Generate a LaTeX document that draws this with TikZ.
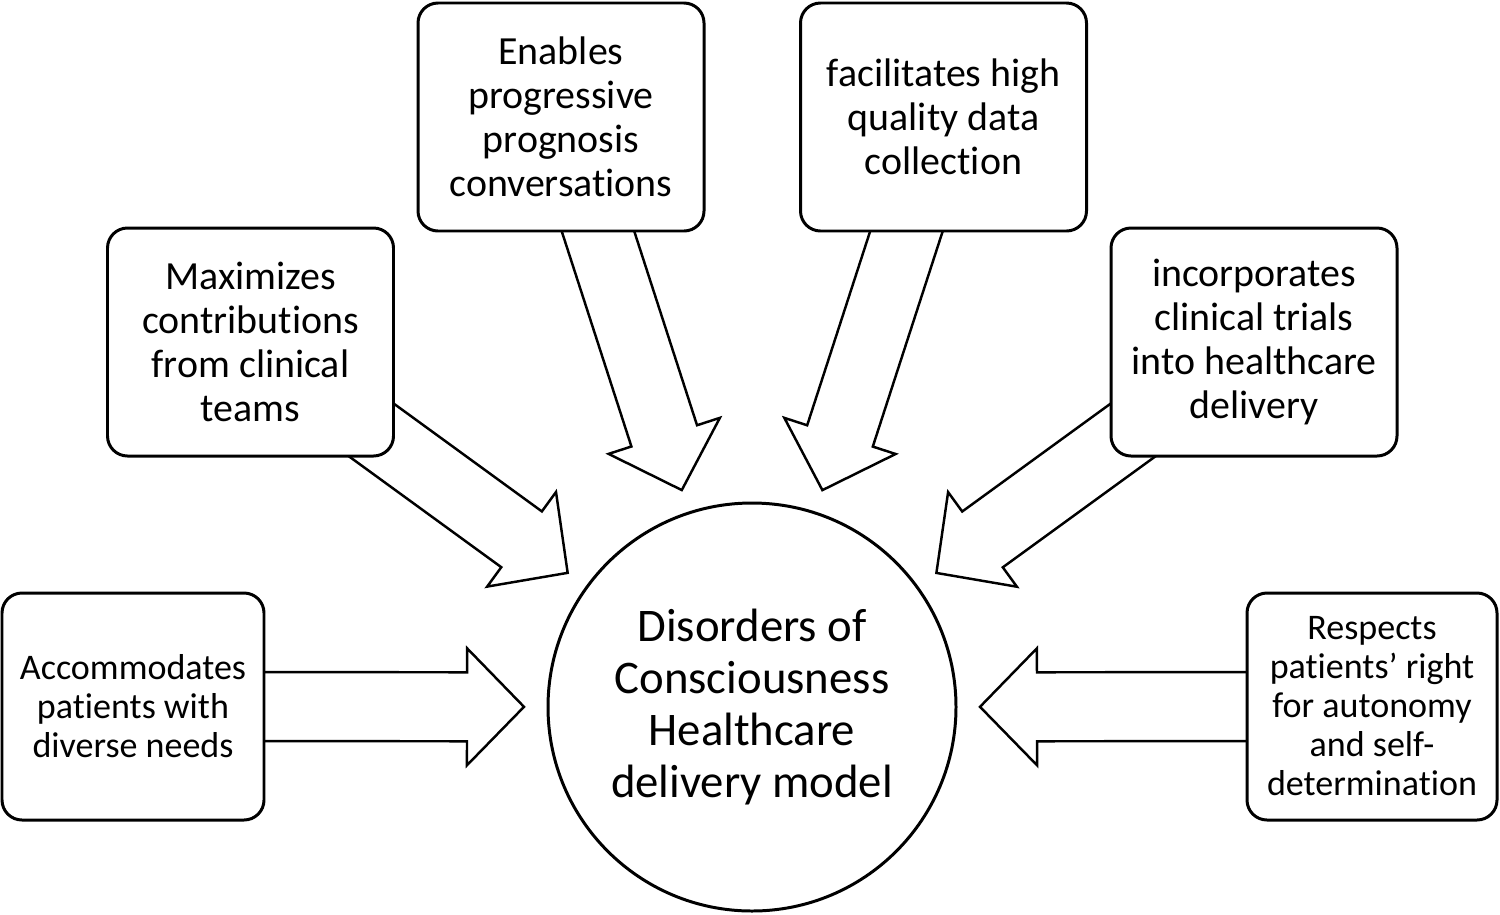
\documentclass[tikz,border=0pt]{standalone}
\usepackage{fontspec}
\setmainfont{Carlito}[Ligatures={NoCommon}]
\usetikzlibrary{calc}
\usetikzlibrary{backgrounds}

\begin{document}
\begin{tikzpicture}[x=0.1mm,y=-0.1mm,
    box/.style={draw,line width=0.85pt,rounded corners=2mm,fill=white,align=center,inner sep=0pt},
    topbox/.style={box,minimum width=28.6mm,minimum height=22.8mm,font=\fontsize{11.35pt}{12.5pt}\selectfont},
    sidebox/.style={box,minimum height=22.7mm,font=\fontsize{10.25pt}{11.1pt}\selectfont},
    hub/.style={circle,draw,line width=0.85pt,minimum size=40.8mm,align=center,font=\fontsize{13.3pt}{14.8pt}\selectfont},
    bigarrow/.style={draw,line width=0.7pt,fill=white,line join=miter}]
    \useasboundingbox (0,0) rectangle (1500,914);
    \node[hub] (dcm) at (752,707) {Disorders of\\Consciousness\\Healthcare\\delivery model};
    \node[sidebox,minimum width=26.2mm] (acc) at (133,706.5) {Accommodates\\patients with\\diverse needs};
    \node[topbox] (maxi) at (250.5,342) {Maximizes\\contributions\\from clinical\\teams};
    \node[topbox] (enab) at (561,117) {Enables\\progressive\\prognosis\\conversations};
    \node[topbox] (faci) at (943.5,117) {facilitates high\\quality data\\collection};
    \node[topbox] (inco) at (1254,342) {incorporates\\clinical trials\\into healthcare\\delivery};
    \node[sidebox,minimum width=25mm] (resp) at (1372,706.5) {Respects\\patients’ right\\for autonomy\\and self-\\determination};
    % hollow arrows, each aimed from a box at the hub
    \begin{scope}[on background layer]
        \foreach \b in {acc,maxi,enab,faci,inco,resp} {
            \coordinate (tip) at ($(dcm)!22.8mm!(\b)$);
            \coordinate (back) at ($(tip)!5.7mm!(\b)$);
            \draw[bigarrow] ($(\b)!3.45mm!90:(tip)$) -- ($(back)!3.45mm!90:(tip)$)
                -- ($(back)!5.85mm!90:(tip)$) -- (tip) -- ($(back)!5.85mm!-90:(tip)$)
                -- ($(back)!3.45mm!-90:(tip)$) -- ($(\b)!3.45mm!-90:(tip)$) -- cycle;
        }
    \end{scope}
\end{tikzpicture}
\end{document}
